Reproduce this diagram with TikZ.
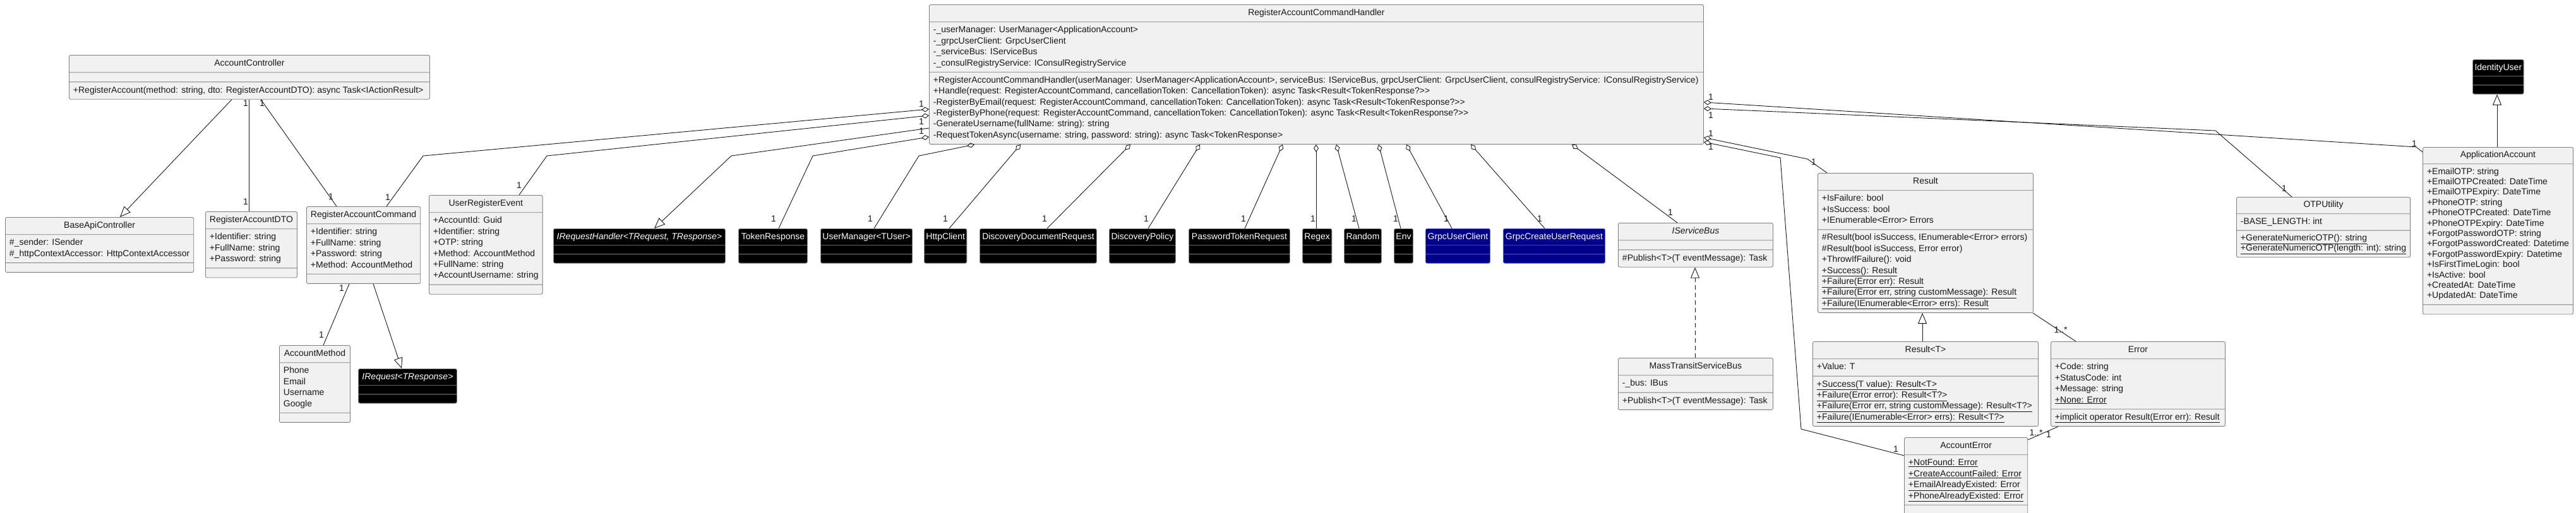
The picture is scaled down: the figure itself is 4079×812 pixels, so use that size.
\documentclass[tikz,border=0pt]{standalone}
\usepackage{fontspec}
\setmainfont{Liberation Sans}
\usetikzlibrary{arrows.meta,shapes.multipart}
\definecolor{Ink}{HTML}{181818}
\definecolor{BoxFill}{HTML}{F1F1F1}
\definecolor{BoxLine}{HTML}{7F7F7F}
\definecolor{ExtLine}{HTML}{8A8A8A}
\definecolor{GrpcFill}{HTML}{00008B}
\definecolor{GrpcLine}{HTML}{5A5AC8}
\tikzset{
  class box/.style={rectangle split, rectangle split parts=3,
    rectangle split part align={center,left,left},
    rectangle split empty part height=0pt,
    draw=BoxLine, fill=BoxFill, text=Ink, rounded corners=2.5pt, line width=0.9pt,
    align=left, inner xsep=6.5pt, inner ysep=4.5pt, anchor=north west,
    font=\fontsize{14}{17.4}\selectfont},
  tight rows/.style={font=\fontsize{14}{16.4}\selectfont},
  external box/.style={class box, draw=ExtLine, fill=black, text=white,
    inner xsep=3pt, inner ysep=4pt},
  grpc box/.style={class box, draw=GrpcLine, fill=GrpcFill, text=white,
    inner xsep=3pt, inner ysep=4pt},
  assoc link/.style={draw=Ink, line width=0.9pt},
  agg link/.style={assoc link, {Diamond[open,length=12pt,width=8pt]}-},
  inherit link/.style={assoc link, -{Triangle[open,length=17pt,width=14pt]}},
  realize link/.style={inherit link, dash pattern=on 7pt off 5pt},
  mult/.style={inner sep=0pt, text=Ink, font=\fontsize{14}{16}\selectfont},
}

\begin{document}
\begin{tikzpicture}[x=1pt,y=-1pt]
  \useasboundingbox (0,0) rectangle (4079,812);

  % controller side
  \node[class box, minimum width=571pt] (acctCtrl) at (109,87)
    {\strut AccountController\nodepart{second}\nodepart{third}\strut +RegisterAccount(method: string, dto: RegisterAccountDTO): async Task<IActionResult>\strut};
  \node[class box, minimum width=296pt] (baseApi) at (8,344)
    {\strut BaseApiController\nodepart{second}\strut \#\_sender: ISender\\\#\_httpContextAccessor: HttpContextAccessor\strut\nodepart{third}};
  \node[class box, minimum width=140pt] (regDto) at (325,335)
    {\strut RegisterAccountDTO\nodepart{second}\strut +Identifier: string\\+FullName: string\\+Password: string\strut\nodepart{third}};
  \node[class box, minimum width=173pt] (regCmd) at (485,327)
    {\strut RegisterAccountCommand\nodepart{second}\strut +Identifier: string\\+FullName: string\\+Password: string\\+Method: AccountMethod\strut\nodepart{third}};
  \node[class box, minimum width=177pt] (userEvt) at (679,309)
    {\strut UserRegisterEvent\nodepart{second}\strut +AccountId: Guid\\+Identifier: string\\+OTP: string\\+Method: AccountMethod\\+FullName: string\\+AccountUsername: string\strut\nodepart{third}};
  \node[class box, minimum width=112pt] (acctMethod) at (442,547)
    {\strut AccountMethod\nodepart{second}\strut Phone\\Email\\Username\\Google\strut\nodepart{third}};
  \node[external box, minimum width=156pt] (iRequest) at (567,584)
    {\strut\textit{IRequest<TResponse>}\nodepart{second}\nodepart{third}};

  % command handler
  \node[class box, minimum width=1226pt] (handler) at (1471,7)
    {\strut RegisterAccountCommandHandler\nodepart{second}\strut -\_userManager: UserManager<ApplicationAccount>\\-\_grpcUserClient: GrpcUserClient\\-\_serviceBus: IServiceBus\\-\_consulRegistryService: IConsulRegistryService\strut
     \nodepart{third}\strut +RegisterAccountCommandHandler(userManager: UserManager<ApplicationAccount>, serviceBus: IServiceBus, grpcUserClient: GrpcUserClient, consulRegistryService: IConsulRegistryService)\\+Handle(request: RegisterAccountCommand, cancellationToken: CancellationToken): async Task<Result<TokenResponse?>{}>\\-RegisterByEmail(request: RegisterAccountCommand, cancellationToken: CancellationToken): async Task<Result<TokenResponse?>{}>\\-RegisterByPhone(request: RegisterAccountCommand, cancellationToken: CancellationToken): async Task<Result<TokenResponse?>{}>\\-GenerateUsername(fullName: string): string\\-RequestTokenAsync(username: string, password: string): async Task<TokenResponse>\strut};

  % external types
  \node[external box, minimum width=272pt] (iReqHandler) at (876,362)
    {\strut\textit{IRequestHandler<TRequest, TResponse>}\nodepart{second}\nodepart{third}};
  \node[external box, minimum width=109pt] (tokenResp) at (1169,362)
    {\strut TokenResponse\nodepart{second}\nodepart{third}};
  \node[external box, minimum width=144pt] (userMgr) at (1299,362)
    {\strut UserManager<TUser>\nodepart{second}\nodepart{third}};
  \node[external box, minimum width=66pt] (httpClient) at (1463,362)
    {\strut HttpClient\nodepart{second}\nodepart{third}};
  \node[external box, minimum width=185pt] (discDocReq) at (1551,362)
    {\strut DiscoveryDocumentRequest\nodepart{second}\nodepart{third}};
  \node[external box, minimum width=105pt] (discPolicy) at (1756,362)
    {\strut DiscoveryPolicy\nodepart{second}\nodepart{third}};
  \node[external box, minimum width=160pt] (pwdTokenReq) at (1882,362)
    {\strut PasswordTokenRequest\nodepart{second}\nodepart{third}};
  \node[external box, minimum width=46pt] (regexBox) at (2062,362)
    {\strut Regex\nodepart{second}\nodepart{third}};
  \node[external box, minimum width=59pt] (randomBox) at (2128,362)
    {\strut Random\nodepart{second}\nodepart{third}};
  \node[external box, minimum width=30pt] (envBox) at (2207,362)
    {\strut Env\nodepart{second}\nodepart{third}};
  \node[grpc box, minimum width=102pt] (grpcClient) at (2257,362)
    {\strut GrpcUserClient\nodepart{second}\nodepart{third}};
  \node[grpc box, minimum width=161pt] (grpcCreateReq) at (2380,362)
    {\strut GrpcCreateUserRequest\nodepart{second}\nodepart{third}};

  % service bus
  \node[class box, minimum width=245pt] (serviceBus) at (2562,353)
    {\strut\textit{IServiceBus}\nodepart{second}\nodepart{third}\strut\#Publish<T>(T eventMessage): Task\strut};
  \node[class box, minimum width=245pt] (massTransit) at (2562,567)
    {\strut MassTransitServiceBus\nodepart{second}\strut -\_bus: IBus\strut\nodepart{third}\strut +Publish<T>(T eventMessage): Task\strut};

  % results and errors
  \node[class box, minimum width=341pt] (result) at (2878,274)
    {\strut Result\nodepart{second}\strut +IsFailure: bool\\+IsSuccess: bool\\+IEnumerable<Error> Errors\strut
     \nodepart{third}\strut \#Result(bool isSuccess, IEnumerable<Error> errors)\\\#Result(bool isSuccess, Error error)\\+ThrowIfFailure(): void\\\underline{+Success(): Result}\\\underline{+Failure(Error err): Result}\\\underline{+Failure(Error err, string customMessage): Result}\\\underline{+Failure(IEnumerable<Error> errs): Result}\strut};
  \node[class box, minimum width=357pt] (resultT) at (2870,541)
    {\strut Result<T>\nodepart{second}\strut +Value: T\strut
     \nodepart{third}\strut\underline{+Success(T value): Result<T>}\\\underline{+Failure(Error error): Result<T?>}\\\underline{+Failure(Error err, string customMessage): Result<T?>}\\\underline{+Failure(IEnumerable<Error> errs): Result<T?>}\strut};
  \node[class box, minimum width=276pt] (errorBox) at (3247,541)
    {\strut Error\nodepart{second}\strut +Code: string\\+StatusCode: int\\+Message: string\\\underline{+None: Error}\strut
     \nodepart{third}\strut\underline{+implicit operator Result(Error err): Result}\strut};
  \node[class box, minimum width=193pt] (acctError) at (3015,693)
    {\strut AccountError\nodepart{second}\strut\underline{+NotFound: Error}\\\underline{+CreateAccountFailed: Error}\\\underline{+EmailAlreadyExisted: Error}\\\underline{+PhoneAlreadyExisted: Error}\strut\nodepart{third}};

  % account side
  \node[class box, tight rows, minimum width=274pt] (otpUtil) at (3541,312)
    {\strut OTPUtility\nodepart{second}\strut -BASE\_LENGTH: int\strut
     \nodepart{third}\strut\underline{+GenerateNumericOTP(): string}\\\underline{+GenerateNumericOTP(length: int): string}\strut};
  \node[class box, tight rows, minimum width=238pt] (appAccount) at (3836,233)
    {\strut ApplicationAccount\nodepart{second}\strut +EmailOTP: string\\+EmailOTPCreated: DateTime\\+EmailOTPExpiry: DateTime\\+PhoneOTP: string\\+PhoneOTPCreated: DateTime\\+PhoneOTPExpiry: DateTime\\+ForgotPasswordOTP: string\\+ForgotPasswordCreated: Datetime\\+ForgotPasswordExpiry: Datetime\\+IsFirstTimeLogin: bool\\+IsActive: bool\\+CreatedAt: DateTime\\+UpdatedAt: DateTime\strut\nodepart{third}};
  \node[external box, minimum width=79pt] (identityUser) at (3915,94)
    {\strut IdentityUser\nodepart{second}\nodepart{third}};

  % controller links
  \draw[inherit link] ([xshift=258pt]acctCtrl.south west) -- ([xshift=182pt]baseApi.north west);
  \draw[assoc link] ([xshift=285pt]acctCtrl.south west) -- ([xshift=69pt]regDto.north west);
  \draw[assoc link] ([xshift=304pt]acctCtrl.south west) -- ([xshift=48pt]regCmd.north west);
  \draw[assoc link] ([xshift=68pt]regCmd.south west) -- ([xshift=70pt]acctMethod.north west);
  \draw[inherit link] ([xshift=106pt]regCmd.south west) -- ([xshift=69pt]iRequest.north west);

  % handler links, left edge
  \draw[agg link] ([yshift=-166pt]handler.north west) -- (670,247) -- ([xshift=127pt]regCmd.north west);
  \draw[agg link] ([yshift=-176pt]handler.north west) -- (866,247) -- ([xshift=143pt]userEvt.north west);
  \draw[inherit link] ([yshift=-196pt]handler.north west) -- (1158,247) -- ([xshift=160pt]iReqHandler.north west);
  \draw[agg link] ([yshift=-210pt]handler.north west) -- (1287,247) -- ([xshift=64pt]tokenResp.north west);

  % handler links, bottom edge
  \draw[agg link] ([xshift=72pt]handler.south west) -- (1455,247) -- ([xshift=85pt]userMgr.north west);
  \draw[agg link] ([xshift=145pt]handler.south west) -- ([xshift=40pt]httpClient.north west);
  \draw[agg link] ([xshift=319pt]handler.south west) -- ([xshift=107pt]discDocReq.north west);
  \draw[agg link] ([xshift=429pt]handler.south west) -- ([xshift=62pt]discPolicy.north west);
  \draw[agg link] ([xshift=560pt]handler.south west) -- ([xshift=89pt]pwdTokenReq.north west);
  \draw[agg link] ([xshift=613pt]handler.south west) -- ([xshift=22pt]regexBox.north west);
  \draw[agg link] ([xshift=645pt]handler.south west) -- ([xshift=24pt]randomBox.north west);
  \draw[agg link] ([xshift=712pt]handler.south west) -- ([xshift=11pt]envBox.north west);
  \draw[agg link] ([xshift=756pt]handler.south west) -- ([xshift=42pt]grpcClient.north west);
  \draw[agg link] ([xshift=858pt]handler.south west) -- ([xshift=66pt]grpcCreateReq.north west);
  \draw[agg link] ([xshift=1018pt]handler.south west) -- ([xshift=94pt]serviceBus.north west);
  \draw[realize link] ([xshift=122pt]massTransit.north west) -- ([xshift=122pt]serviceBus.south west);

  % handler links, right edge
  \draw[agg link] ([yshift=-155pt]handler.north east) -- (3826,233) -- ([yshift=-8pt]appAccount.north west);
  \draw[agg link] ([yshift=-165pt]handler.north east) -- (3508,207) -- ([xshift=88pt]otpUtil.north west);
  \draw[agg link] ([yshift=-211pt]handler.north east) -- (2862,252) -- ([xshift=15pt]result.north west);
  \draw[agg link] ([yshift=-218pt]handler.north east) -- (2819,250) -- (2852,680) -- ([yshift=-29pt]acctError.north west);

  % result and account links
  \draw[inherit link] ([xshift=174pt]resultT.north west) -- ([xshift=166pt]result.south west);
  \draw[assoc link] ([xshift=-1pt]result.south east) -- ([xshift=40pt]errorBox.north west);
  \draw[assoc link] ([xshift=12pt]errorBox.south west) -- ([yshift=-4pt]acctError.north east);
  \draw[inherit link] ([xshift=118pt]appAccount.north west) -- ([xshift=39pt]identityUser.south west);

  % multiplicities
  \node[mult] (mDtoA) at (389,164) {1};
  \node[mult] (mDtoB) at (389,320) {1};
  \node[mult] (mCmdA) at (415,164) {1};
  \node[mult] (mCmdB) at (524,312) {1};
  \node[mult] (mMethodA) at (541,457) {1};
  \node[mult] (mMethodB) at (509,531) {1};
  \node[mult] (mHCmdA) at (1459,165) {1};
  \node[mult] (mHCmdB) at (614,313) {1};
  \node[mult] (mHEvtA) at (1459,193) {1};
  \node[mult] (mHEvtB) at (822,294) {1};
  \node[mult] (mHTokA) at (1459,208) {1};
  \node[mult] (mHTokB) at (1225,347) {1};
  \node[mult] (mHMgr) at (1378,347) {1};
  \node[mult] (mHHttp) at (1497,347) {1};
  \node[mult] (mHDoc) at (1654,347) {1};
  \node[mult] (mHPol) at (1815,347) {1};
  \node[mult] (mHPwd) at (1969,347) {1};
  \node[mult] (mHRegex) at (2079,347) {1};
  \node[mult] (mHRandom) at (2144,347) {1};
  \node[mult] (mHEnv) at (2210,347) {1};
  \node[mult] (mHGrpc) at (2290,347) {1};
  \node[mult] (mHGrpcReq) at (2438,347) {1};
  \node[mult] (mHBus) at (2645,337) {1};
  \node[mult] (mHAppA) at (2709,154) {1};
  \node[mult] (mHAppB) at (3823,228) {1};
  \node[mult] (mHOtpA) at (2709,183) {1};
  \node[mult] (mHOtpB) at (3617,299) {1};
  \node[mult] (mHResA) at (2709,212) {1};
  \node[mult] (mHResB) at (2872,257) {1};
  \node[mult] (mHErrA) at (2709,233) {1};
  \node[mult] (mHErrB) at (3002,712) {1};
  \node[mult] (mResErr) at (3263,523) {1..*};
  \node[mult] (mAccErrA) at (3224,686) {1..*};
  \node[mult] (mAccErrB) at (3244,689) {1};
\end{tikzpicture}
\end{document}
